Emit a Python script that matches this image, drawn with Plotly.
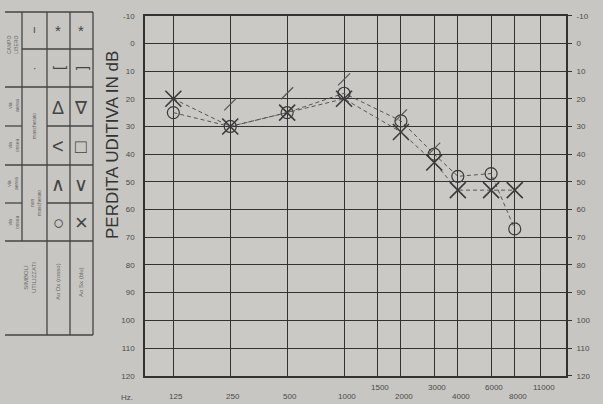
import numpy as np
import plotly.graph_objects as go

# ---------------- data ----------------
grid_freqs = [125, 250, 500, 1000, 1500, 2000, 3000, 4000, 6000, 8000, 11000]
grid_labels = ["125", "250", "500", "1000", "1500", "2000", "3000", "4000", "6000", "8000", "11000"]
label_raised = [False, False, False, False, True, False, True, False, True, False, True]
db_ticks = list(range(-10, 121, 10))
db_labels = [str(v) for v in db_ticks]

freq = [125, 250, 500, 1000, 2000, 3000, 4000, 6000, 8000]
right_ear_O = [25, 30, 25, 18, 28, 40, 48, 47, 67]
left_ear_X = [20, 30, 25, 20, 32, 43, 53, 53, 53]
bone_freq = [250, 500, 1000, 2000, 3000]
bone_db = [22, 18, 13, 26, 38]

W, H = 603, 404
BG = "#c8c6c2"
def px(x):
    return x / W
def py(y):
    return 1 - y / H

INK = "#3a3a3a"
GRID = "#323232"
TXT = "#4a4a4a"
FONT = "Liberation Sans, Arial, sans-serif"

fig = go.Figure()
fig.add_trace(go.Scatter(
    x=freq, y=right_ear_O, mode="lines+markers",
    line=dict(color="#555", width=1, dash="4px,3px"),
    marker=dict(symbol="circle-open", size=12, color=INK, line=dict(width=1.2, color=INK)),
    showlegend=False))
fig.add_trace(go.Scatter(
    x=freq, y=left_ear_X, mode="lines+markers",
    line=dict(color="#555", width=1, dash="4px,3px"),
    marker=dict(symbol="x-thin-open", size=16, color=INK, line=dict(width=1.6, color=INK)),
    showlegend=False))
fig.add_trace(go.Scatter(
    x=bone_freq, y=bone_db, mode="markers",
    marker=dict(symbol="line-ne-open", size=12, color="#555", line=dict(width=1.2, color="#555")),
    showlegend=False))
# invisible trace to activate right axis
fig.add_trace(go.Scatter(x=[1000], y=[0], yaxis="y2", mode="markers",
                         marker=dict(opacity=0), showlegend=False, hoverinfo="skip"))

x0, x1 = 145, 566
y0, y1 = 15.7, 375.7
axis_common = dict(showgrid=True, gridcolor=GRID, gridwidth=1.4, zeroline=False,
                   showline=True, linecolor=GRID, linewidth=1.6, mirror=True, automargin=False)

fig.update_layout(
    width=W, height=H, template="none",
    margin=dict(l=0, r=0, t=0, b=0),
    paper_bgcolor=BG, plot_bgcolor="#cbc9c5",
    font=dict(family=FONT, color=TXT),
    xaxis=dict(type="log", range=[np.log10(88.5), np.log10(14940)],
               domain=[px(x0), px(x1)], tickvals=grid_freqs, showticklabels=False,
               ticks="", **axis_common),
    yaxis=dict(range=[120, -10], domain=[py(y1), py(y0)], tickvals=db_ticks, ticktext=db_labels,
               ticks="", ticklabelstandoff=7, tickfont=dict(size=8, color=TXT), **axis_common),
    yaxis2=dict(range=[120, -10], overlaying="y", side="right", tickvals=db_ticks, ticktext=db_labels,
                showgrid=False, zeroline=False, ticks="outside", ticklen=5, tickcolor=GRID,
                ticklabelstandoff=3,
                tickfont=dict(size=8, color=TXT), automargin=False, showline=False),
)

ann = []
# x tick labels (staggered)
for f, lab, up in zip(grid_freqs, grid_labels, label_raised):
    ann.append(dict(x=np.log10(f), xref="x", y=py(387 if up else 396), yref="paper",
                    xanchor="center", yanchor="middle",
                    text=lab, showarrow=False, xshift=3, font=dict(size=8, color=TXT)))
ann.append(dict(x=px(127), y=py(397), xref="paper", yref="paper", text="Hz.",
                xanchor="center", yanchor="middle",
                showarrow=False, font=dict(size=8, color=TXT)))
# y title
ann.append(dict(x=px(112), y=py(145), xref="paper", yref="paper", text="PERDITA UDITIVA IN dB",
                xanchor="center", yanchor="middle",
                textangle=-90, showarrow=False, font=dict(size=17, color="#333")))

# ---------------- left legend table ----------------
shapes = []
def hline(y, xa, xb, w=1.3):
    shapes.append(dict(type="line", xref="paper", yref="paper", x0=px(xa), x1=px(xb),
                       y0=py(y), y1=py(y), line=dict(color="#444", width=w)))
def vline(x, ya, yb, w=1.3):
    shapes.append(dict(type="line", xref="paper", yref="paper", x0=px(x), x1=px(x),
                       y0=py(ya), y1=py(yb), line=dict(color="#444", width=w)))

hline(12, 5, 93)
hline(49, 22, 93)
hline(87, 5, 93)
hline(126, 5, 22)
hline(126, 47, 93)
hline(165, 5, 93)
hline(203, 5, 22)
hline(203, 47, 93)
hline(241, 5, 93)
hline(335, 5, 93)
vline(22, 12, 241)
vline(47, 12, 335)
vline(70, 12, 335)
vline(93, 12, 335)

def txt(x, y, t, size=6, angle=-90, color="#666"):
    ann.append(dict(x=px(x), y=py(y), xref="paper", yref="paper", text=t, textangle=angle,
                    xanchor="center", yanchor="middle",
                    showarrow=False, font=dict(size=size, color=color)))

# symbols
sym_col = "#444"
txt(34, 30, "ı", 10, 0, sym_col)
txt(34, 68, "·", 10, 0, sym_col)
txt(58, 31, "*", 15, 0, sym_col)
txt(81, 31, "*", 15, 0, sym_col)
txt(58, 68, "[", 15, -90, sym_col)
txt(81, 68, "]", 15, -90, sym_col)
txt(58, 108, "Δ", 18, 0, sym_col)
txt(81, 108, "∇", 18, 0, sym_col)
txt(58, 146, "<", 20, 0, sym_col)
txt(81, 146, "□", 19, 0, sym_col)
txt(58, 185, "∧", 19, 0, sym_col)
txt(81, 185, "∨", 19, 0, sym_col)
txt(58, 222, "○", 19, 0, sym_col)
txt(81, 222, "×", 22, 0, sym_col)

# small rotated labels
txt(13, 45, "CAMPO<br>LIBERO", 5)
txt(13, 106, "via<br>aerea", 5)
txt(13, 145, "via<br>ossea", 5)
txt(13, 184, "via<br>aerea", 5)
txt(13, 222, "via<br>ossea", 5)
txt(34, 126, "mascherato", 5)
txt(35, 203, "non<br>mascherato", 5)
txt(30, 278, "SIMBOLI<br>UTILIZZATI", 6)
txt(58, 282, "Ao Dx (rosso)", 6)
txt(81, 282, "Ao Sx (blu)", 6)

fig.update_layout(annotations=ann, shapes=shapes)
fig.write_html(
    "out.html",
    config={"displayModeBar": False},
    post_script="document.body.style.margin='0';document.body.style.background='" + BG + "';",
)
